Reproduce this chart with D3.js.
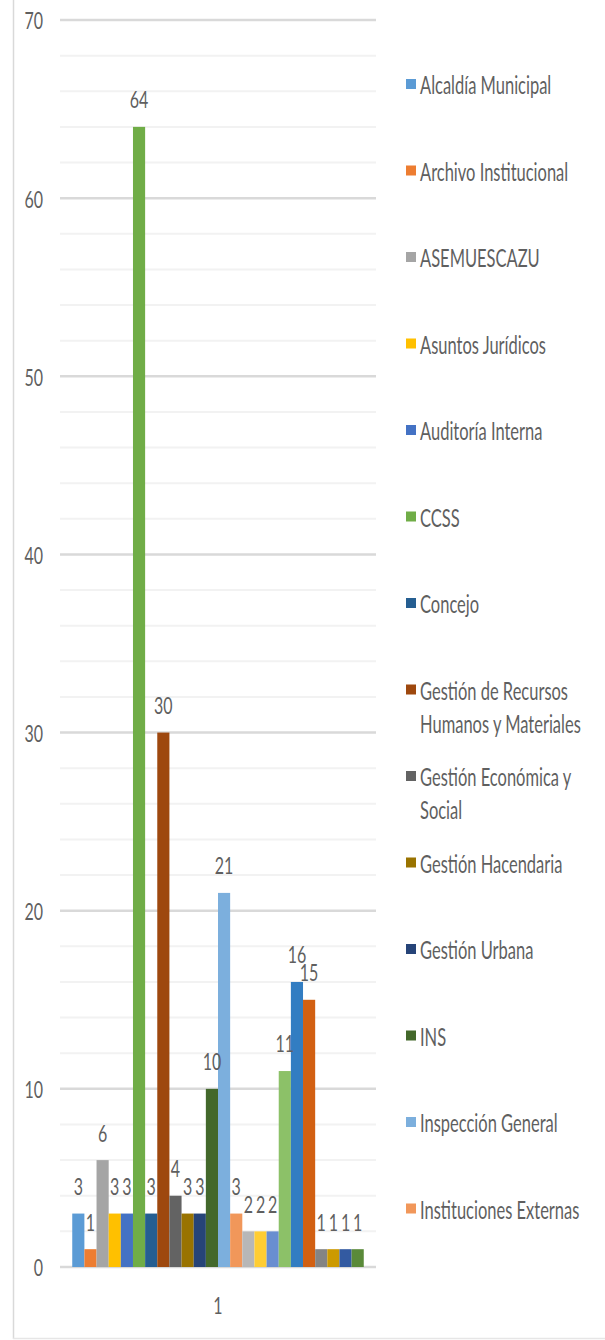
<!DOCTYPE html>
<html>
  <head>
    <meta charset="utf-8">
    <title>Cantidad por dependencia</title>
    <style>
      body { margin: 0; background: #fff; }
      svg text { font-family: Lato, "Open Sans", sans-serif; fill: #5f5f5f; }
    </style>
  </head>
  <body>
    <div id="chart"></div>
    <script src="https://cdn.jsdelivr.net/npm/d3@7"></script>
    <script>
      // categories on the x axis (only one)
      var categories = ['1'];

      // series names visible in the legend (the rest are cut off in the original)
      var seriesNames = [
        'Alcaldía Municipal', 'Archivo Institucional', 'ASEMUESCAZU', 'Asuntos Jurídicos',
        'Auditoría Interna', 'CCSS', 'Concejo', 'Gestión de Recursos Humanos y Materiales',
        'Gestión Económica y Social', 'Gestión Hacendaria', 'Gestión Urbana', 'INS',
        'Inspección General', 'Instituciones Externas'
      ];

      // one value per series, in order
      var seriesValues = [3, 1, 6, 3, 3, 64, 3, 30, 4, 3, 3, 10, 21, 3, 2, 2, 2, 11, 16, 15, 1, 1, 1, 1];

      var seriesColors = [
        '#5B9BD5', '#ED7D31', '#A5A5A5', '#FFC000', '#4472C4', '#70AD47', '#255E91', '#9E480E',
        '#636363', '#997300', '#264478', '#43682B', '#7CAFDD', '#F1975A', '#B7B7B7', '#FFCD33',
        '#698ED0', '#8CC168', '#327DC2', '#D26012', '#848484', '#CC9A00', '#335AA1', '#5A8A39'
      ];

      var yTicks = [0, 10, 20, 30, 40, 50, 60, 70];

      var width = 605, height = 1340;
      var stretch = 1.5; // the original picture is stretched vertically

      var svg = d3.select('#chart').append('svg')
        .attr('width', width)
        .attr('height', height);

      var y = d3.scaleLinear().domain([0, 70]).range([1267, 20]);
      var x0 = d3.scaleBand().domain(categories).range([60, 376]).paddingOuter(0.042);
      var x1 = d3.scaleBand().domain(d3.range(seriesValues.length)).range([0, x0.bandwidth()]);

      function label(g, tx, ty, txt, anchor, size) {
        return g.append('text')
          .attr('transform', 'translate(' + tx + ',' + ty + ') scale(1,' + stretch + ')')
          .attr('text-anchor', anchor || 'middle')
          .attr('dominant-baseline', 'central')
          .style('font-size', (size || 16) + 'px')
          .text(txt);
      }

      // chart border (left and bottom visible)
      svg.append('line').attr('x1', 13.5).attr('x2', 13.5).attr('y1', 0).attr('y2', 1339)
        .attr('stroke', '#d9d9d9').attr('stroke-width', 1.5);
      svg.append('line').attr('x1', 13).attr('x2', width).attr('y1', 1338.5).attr('y2', 1338.5)
        .attr('stroke', '#e6e6e6').attr('stroke-width', 1.5);

      // minor gridlines every 2
      svg.append('g').selectAll('line')
        .data(d3.range(0, 71, 2).filter(function(v) { return v % 10 !== 0; }))
        .enter().append('line')
        .attr('x1', 60).attr('x2', 376)
        .attr('y1', function(d) { return y(d); })
        .attr('y2', function(d) { return y(d); })
        .attr('stroke', '#f2f2f2').attr('stroke-width', 2);

      // major gridlines + tick labels
      var yAxis = svg.append('g');
      yAxis.selectAll('line').data(yTicks).enter().append('line')
        .attr('x1', 60).attr('x2', 376)
        .attr('y1', function(d) { return y(d); })
        .attr('y2', function(d) { return y(d); })
        .attr('stroke', '#d9d9d9').attr('stroke-width', 2.5);
      yTicks.forEach(function(t) { label(yAxis, 43, y(t), t, 'end'); });

      // bars
      var groups = svg.selectAll('.cat').data(categories).enter().append('g')
        .attr('class', 'cat')
        .attr('transform', function(d) { return 'translate(' + x0(d) + ',0)'; });

      groups.selectAll('rect')
        .data(seriesValues.map(function(v, i) { return { i: i, v: v }; }))
        .enter().append('rect')
        .attr('x', function(d) { return x1(d.i); })
        .attr('y', function(d) { return y(d.v); })
        .attr('width', x1.bandwidth())
        .attr('height', function(d) { return y(0) - y(d.v); })
        .attr('fill', function(d) { return seriesColors[d.i]; });

      // data labels
      groups.each(function() {
        var g = d3.select(this);
        seriesValues.forEach(function(v, i) {
          label(g, x1(i) + x1.bandwidth() / 2, y(v) - 28, v);
        });
      });

      // category label
      categories.forEach(function(c) {
        label(svg, x0(c) + x0.bandwidth() / 2, 1305, c);
      });

      // legend
      var legendTop = 84, legendStep = 86.5, lineH = 33;
      var legendLines = {
        'Gestión de Recursos Humanos y Materiales': ['Gestión de Recursos', 'Humanos y Materiales'],
        'Gestión Económica y Social': ['Gestión Económica y', 'Social']
      };
      var legend = svg.append('g');
      seriesNames.forEach(function(name, i) {
        var cy = legendTop + i * legendStep;
        legend.append('rect')
          .attr('x', 406).attr('y', cy - 5).attr('width', 10).attr('height', 10)
          .attr('fill', seriesColors[i]);
        var lines = legendLines[name] || [name];
        lines.forEach(function(l, k) {
          label(legend, 420, cy + k * lineH, l, 'start', 16.5);
        });
      });
    </script>
  </body>
</html>
